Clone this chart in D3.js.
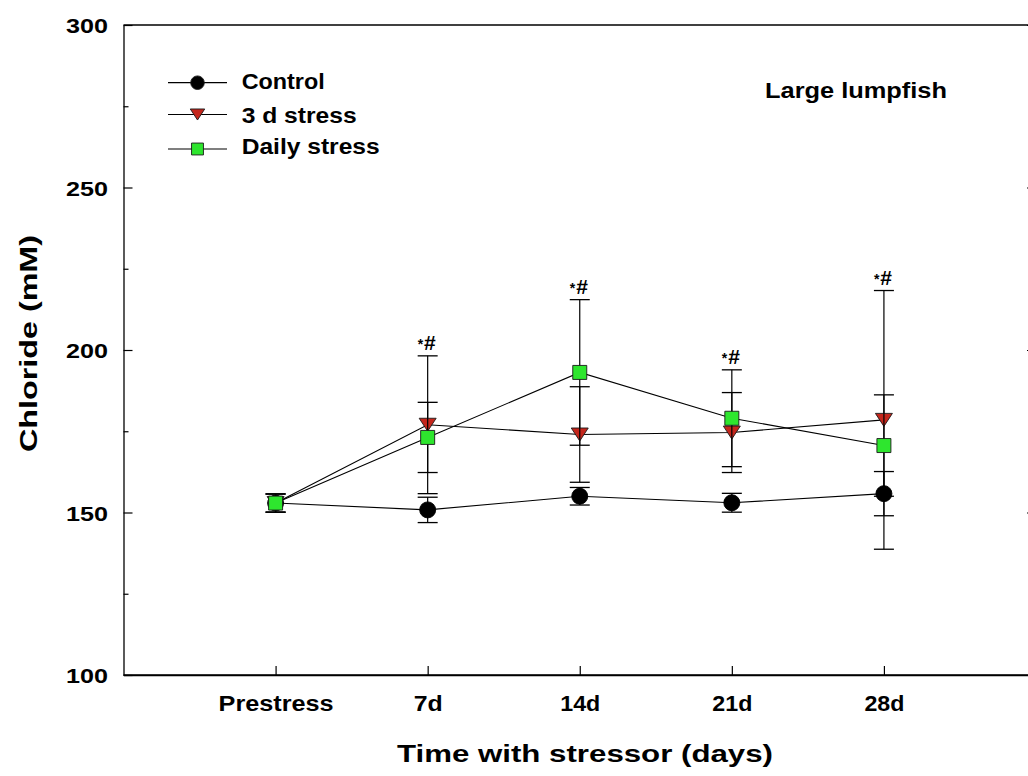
<!DOCTYPE html>
<html><head><meta charset="utf-8">
<script src="https://cdn.jsdelivr.net/npm/d3@7"></script>
<style>
html,body{margin:0;padding:0;background:#fff;}
svg{display:block;}
text{font-family:"Liberation Sans",Arial,sans-serif;font-weight:bold;fill:#000;}
</style>
</head><body>
<svg id="chart" width="1028" height="776"></svg>
<script>
// ---- data ----
const categories = ["Prestress", "7d", "14d", "21d", "28d"];
const controlMean = [152.9, 150.8, 155.0, 153.0, 155.8];
const controlSD   = [2.8, 3.9, 2.7, 2.9, 6.8];
const stress3dMean = [152.9, 177.0, 174.0, 174.6, 178.5];
const stress3dSD   = [2.8, 21.2, 14.7, 12.3, 39.8];
const dailyMean = [152.9, 173.1, 193.1, 179.0, 170.6];
const dailySD   = [2.8, 10.8, 22.4, 14.9, 15.6];
const seriesNames = ["Control", "3 d stress", "Daily stress"];
const yMajorTicks = [100, 150, 200, 250, 300];
const yMinorTicks = [125, 175, 225, 275];
const sigCategories = ["7d", "14d", "21d", "28d"];
const sigLabel = ["*", "#"];
const panelLabel = "Large lumpfish";
const xTitle = "Time with stressor (days)";
const yTitle = "Chloride (mM)";

// ---- styles ----
const series = [
  {name: seriesNames[0], mean: controlMean, sd: controlSD, shape: "circle", fill: "#000000"},
  {name: seriesNames[1], mean: stress3dMean, sd: stress3dSD, shape: "triangle", fill: "#c4261c"},
  {name: seriesNames[2], mean: dailyMean, sd: dailySD, shape: "square", fill: "#2ee62e"}
];

const svg = d3.select("#chart");
const x = d3.scalePoint().domain(categories).range([123.5, 1036]).padding(1);
const y = d3.scaleLinear().domain([100, 300]).range([675, 25]);

function symbolPath(shape, s) {
  if (shape === "triangle") {
    const w = 8.5 * s, h = 6.5 * s;
    return `M${-w},${-h}L${w},${-h}L0,${h}Z`;
  }
  if (shape === "square") {
    const h = 7 * s;
    return `M${-h},${-h}H${h}V${h}H${-h}Z`;
  }
  const r = 8 * s;
  return `M${r},0A${r},${r} 0 1,1 ${-r},0A${r},${r} 0 1,1 ${r},0Z`;
}

// ---- axes ----
const axW = 1.3;
const gL = svg.append("g").attr("transform", "translate(123.5,0)")
  .call(d3.axisLeft(y).tickValues(yMajorTicks).tickSize(-9).tickSizeOuter(0).tickPadding(15.5));
gL.selectAll("text").attr("font-size", 21).attr("textLength", 42).attr("lengthAdjust", "spacingAndGlyphs")
  .attr("font-family", null).attr("dy", "0.36em");
svg.append("g").attr("transform", "translate(123.5,0)")
  .call(d3.axisLeft(y).tickValues(yMinorTicks).tickSize(-5).tickSizeOuter(0).tickFormat(""))
  .select(".domain").remove();

svg.append("g").attr("transform", "translate(1036,0)")
  .call(d3.axisRight(y).tickValues(yMajorTicks).tickSize(-9).tickSizeOuter(0).tickFormat(""));

const gB = svg.append("g").attr("transform", "translate(0,675)")
  .call(d3.axisBottom(x).tickSize(-9).tickSizeOuter(0));
const xLabelLen = {"Prestress": 115, "7d": 29, "14d": 40, "21d": 40, "28d": 40};
gB.selectAll("text").attr("font-size", 22).attr("y", 36).attr("dy", null)
  .attr("font-family", null)
  .attr("textLength", d => xLabelLen[d]).attr("lengthAdjust", "spacingAndGlyphs");
svg.append("line").attr("x1", 123.5).attr("x2", 1036).attr("y1", 675).attr("y2", 675)
  .attr("stroke", "#000").attr("stroke-width", axW);
svg.append("line").attr("x1", 123.5).attr("x2", 1036).attr("y1", 25).attr("y2", 25)
  .attr("stroke", "#000").attr("stroke-width", axW);
svg.selectAll(".domain").attr("stroke-width", axW);
svg.selectAll(".tick line").attr("stroke-width", 1.2);

// ---- series ----
const line = d3.line().x((d, i) => x(categories[i])).y(d => y(d));
series.forEach(s => {
  const g = svg.append("g");
  g.append("path").attr("d", line(s.mean)).attr("fill", "none").attr("stroke", "#000").attr("stroke-width", 1.1);
  s.mean.forEach((m, i) => {
    const cx = x(categories[i]);
    const y1 = y(m + s.sd[i]), y2 = y(m - s.sd[i]);
    g.append("line").attr("x1", cx).attr("x2", cx).attr("y1", y1).attr("y2", y2).attr("stroke", "#000").attr("stroke-width", 1.2);
    [y1, y2].forEach(yy => g.append("line").attr("x1", cx - 10).attr("x2", cx + 10).attr("y1", yy).attr("y2", yy)
      .attr("stroke", "#000").attr("stroke-width", 1.3));
  });
  g.selectAll("path.sym").data(s.mean).enter().append("path").attr("class", "sym")
    .attr("transform", (d, i) => `translate(${x(categories[i])},${y(d)})`)
    .attr("d", symbolPath(s.shape, 1))
    .attr("fill", s.fill).attr("stroke", s.shape === "circle" ? "#000" : "#1a1a1a").attr("stroke-width", 0.9);
});

// ---- significance labels ----
sigCategories.forEach(c => {
  const i = categories.indexOf(c);
  const top = d3.max(series, s => s.mean[i] + s.sd[i]);
  const t = svg.append("text").attr("x", x(c) - 10).attr("y", y(top) - 6);
  t.append("tspan").attr("font-size", 14).attr("dy", -1).text(sigLabel[0]);
  t.append("tspan").attr("font-size", 21).attr("dx", 1).attr("dy", 1).text(sigLabel[1]);
});

// ---- legend ----
const legY = [82.7, 114.5, 149];
const legTextY = [89.3, 123.3, 154.3];
const legLen = [83, 115, 138];
series.forEach((s, k) => {
  svg.append("line").attr("x1", 168).attr("x2", 227).attr("y1", legY[k]).attr("y2", legY[k])
    .attr("stroke", "#000").attr("stroke-width", 1.2);
  svg.append("path").attr("transform", `translate(197.5,${legY[k]})`).attr("d", symbolPath(s.shape, 0.85))
    .attr("fill", s.fill).attr("stroke", "#1a1a1a").attr("stroke-width", 0.9);
  svg.append("text").attr("x", 241.7).attr("y", legTextY[k]).attr("font-size", 22)
    .attr("textLength", legLen[k]).attr("lengthAdjust", "spacingAndGlyphs").text(s.name);
});

// ---- titles ----
svg.append("text").attr("x", 765).attr("y", 98.3).attr("font-size", 22)
  .attr("textLength", 182).attr("lengthAdjust", "spacingAndGlyphs").text(panelLabel);
svg.append("text").attr("x", 585).attr("y", 762).attr("text-anchor", "middle").attr("font-size", 23)
  .attr("textLength", 376).attr("lengthAdjust", "spacingAndGlyphs").text(xTitle);
svg.append("text").attr("transform", "translate(37,343.5) rotate(-90)").attr("text-anchor", "middle")
  .attr("font-size", 23).attr("textLength", 217).attr("lengthAdjust", "spacingAndGlyphs").text(yTitle);
</script>
</body></html>
